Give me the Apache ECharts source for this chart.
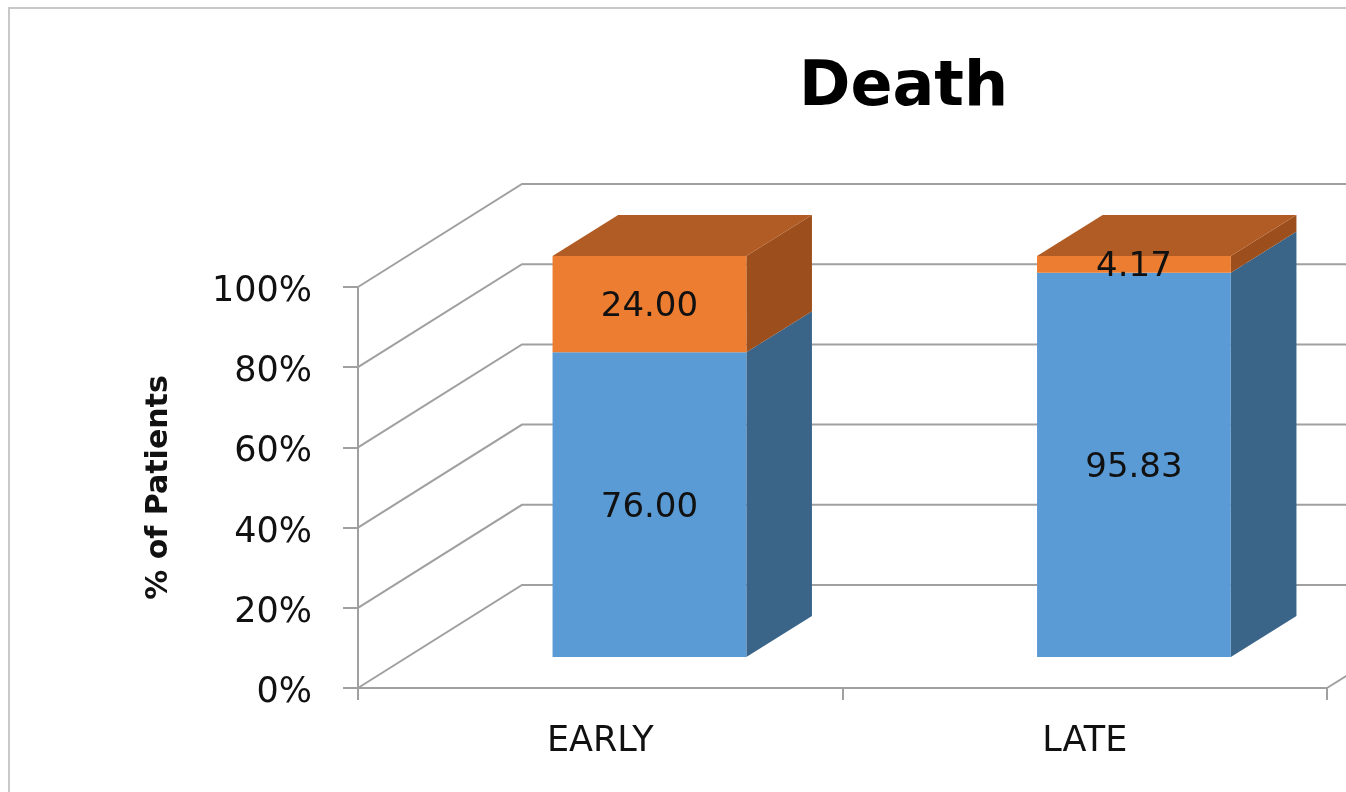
<!DOCTYPE html>
<html>
<head>
<meta charset="utf-8">
<script src="https://cdn.jsdelivr.net/npm/echarts@6/dist/echarts.min.js"></script>
<style>
html,body{margin:0;padding:0;background:#fff;}
#chart{width:1346px;height:792px;}
</style>
</head>
<body>
<div id="chart"></div>
<script>
// ---- data ----
const categories = ['EARLY', 'LATE'];
const seriesNames = ['Series 1', 'Series 2'];
const series1Values = [76.00, 95.83];
const series2Values = [24.00, 4.17];
const yTicks = [0, 20, 40, 60, 80, 100];
const titleText = 'Death';
const yAxisName = '% of Patients';

// ---- style / projection ----
const DX = 164, DY = -103;       // full depth vector of the 3D box
const F0 = 0.30, F1 = 0.70;      // bar front / back depth fractions
const BAR_RATIO = 0.40;
const WALL = '#A0A0A0';
const FACE = [
  {front: '#5B9BD5', side: '#3A6488', top: '#4A7DAE'},
  {front: '#ED7D31', side: '#9C4E1C', top: '#B15C24'}
];
const FONT = 'DejaVu Sans';
const stacks = [series1Values, series2Values];

function renderWall(params, api) {
  const cs = params.coordSys;
  const v = api.value(1);
  const y = api.coord([0, v])[1];
  const L = cs.x, R = cs.x + cs.width;
  const st = {stroke: WALL, lineWidth: 2, fill: null};
  const children = [{
    type: 'polyline',
    shape: {points: [[L, y], [L + DX, y + DY], [R + DX + 200, y + DY]]},
    style: st
  }];
  if (v === 0) {
    children.push({type: 'line', shape: {x1: R, y1: y, x2: R + DX, y2: y + DY}, style: st});
  }
  return {type: 'group', children};
}

function makeBarRenderer(idx) {
  return function (params, api) {
    const i = api.value(0), val = api.value(1);
    let base = 0;
    for (let k = 0; k < idx; k++) base += stacks[k][i];
    const top = base + val;
    const cx = api.coord([i, 0])[0];
    const w = api.size([1, 0])[0] * BAR_RATIO;
    const yb = api.coord([i, base])[1];
    const yt = api.coord([i, top])[1];
    const fx = DX * F0, fy = DY * F0;
    const ddx = DX * (F1 - F0), ddy = DY * (F1 - F0);
    const x0 = cx - w / 2 + fx, x1 = cx + w / 2 + fx;
    const yT = yt + fy, yB = yb + fy;
    const c = FACE[idx];
    const children = [
      {type: 'polygon', shape: {points: [[x1, yT], [x1 + ddx, yT + ddy], [x1 + ddx, yB + ddy], [x1, yB]]},
       style: {fill: c.side}},
      {type: 'rect', shape: {x: x0, y: yT, width: w, height: yB - yT}, style: {fill: c.front}}
    ];
    if (idx === stacks.length - 1) {
      children.push({type: 'polygon',
        shape: {points: [[x0, yT], [x1, yT], [x1 + ddx, yT + ddy], [x0 + ddx, yT + ddy]]},
        style: {fill: c.top}});
    }
    children.push({type: 'text', x: (x0 + x1) / 2, y: (yT + yB) / 2 + 3,
      style: {text: val.toFixed(2), fill: '#111', font: '34px "' + FONT + '"',
        align: 'center', verticalAlign: 'middle'}});
    return {type: 'group', children};
  };
}

const chart = echarts.init(document.getElementById('chart'), null, {renderer: 'canvas'});
const option = {
  backgroundColor: '#fff',
  animation: false,
  title: {
    text: titleText, left: 794, top: 53,
    textStyle: {fontFamily: FONT, fontWeight: 'bold', fontSize: 62, color: '#000'}
  },
  graphic: [{
    type: 'rect', silent: true, z: 0,
    shape: {x: 9, y: 8, width: 1500, height: 900},
    style: {fill: 'none', stroke: '#C8C8C8', lineWidth: 2}
  }],
  grid: {left: 358, top: 287, width: 969, height: 401, containLabel: false, outerBoundsMode: 'none'},
  xAxis: {
    type: 'category', data: categories,
    axisLine: {show: true, lineStyle: {color: WALL, width: 2}},
    axisTick: {show: true, length: 12, lineStyle: {color: WALL, width: 2}},
    axisLabel: {margin: 36, color: '#111', fontFamily: FONT, fontSize: 35}
  },
  yAxis: {
    type: 'value', min: 0, max: 100, interval: 20,
    name: yAxisName, nameLocation: 'middle', nameGap: 184, nameRotate: 90,
    nameTextStyle: {fontFamily: FONT, fontWeight: 'bold', fontSize: 30, color: '#111'},
    axisLine: {show: true, lineStyle: {color: WALL, width: 2}},
    axisTick: {show: true, length: 15, lineStyle: {color: WALL, width: 2}},
    axisLabel: {margin: 46, color: '#111', fontFamily: FONT, fontSize: 35,
      formatter: '{v|{value}%}',
      rich: {v: {fontFamily: FONT, fontSize: 35, color: '#111', padding: [10, 0, 0, 0]}}},
    splitLine: {show: false}
  },
  series: [
    {type: 'custom', name: 'walls', z: 1, clip: false, silent: true,
     renderItem: renderWall, data: yTicks.map(v => [0, v])},
    {type: 'custom', name: seriesNames[0], z: 2, clip: false,
     renderItem: makeBarRenderer(0), data: series1Values.map((v, i) => [i, v])},
    {type: 'custom', name: seriesNames[1], z: 3, clip: false,
     renderItem: makeBarRenderer(1), data: series2Values.map((v, i) => [i, v])}
  ]
};
chart.setOption(option);
</script>
</body>
</html>
